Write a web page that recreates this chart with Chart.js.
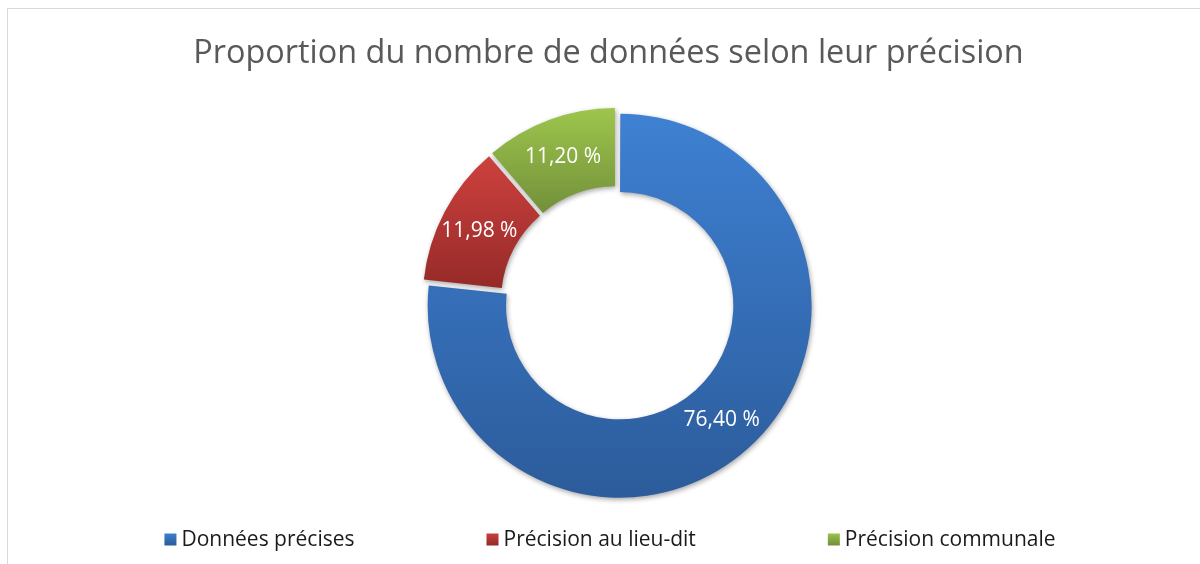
<!DOCTYPE html>
<html><head><meta charset="utf-8">
<script src="https://cdn.jsdelivr.net/npm/chart.js@4/dist/chart.umd.min.js"></script>
<style>
html,body{margin:0;padding:0;background:#fff;overflow:hidden;}
#wrap{position:relative;width:1200px;height:564px;}
#frame{position:absolute;left:7px;top:8px;width:1200px;height:600px;border-left:1px solid #d9d9d9;border-top:1px solid #d9d9d9;}
canvas{position:absolute;left:0;top:0;}
</style></head><body>
<div id="wrap"><div id="frame"></div><canvas id="c" width="1200" height="564"></canvas></div>
<script>
const chartTitle = 'Proportion du nombre de données selon leur précision';
const categories = ['Données précises', 'Précision au lieu-dit', 'Précision communale'];
const values = [76.40, 11.98, 11.20];
const valueLabels = ['76,40 %', '11,98 %', '11,20 %'];
const topColors = ['#3e80d2', '#cd413e', '#9dc54c'];
const bottomColors = ['#2c5c9b', '#952a28', '#73903a'];
const sliceOffsets = [16, 21, 21];

const OUTER = 188;
const INNER = 113;

function sliceRange(i, area) {
  const total = values.reduce((a, b) => a + b, 0);
  let start = -Math.PI / 2;
  for (let k = 0; k < i; k++) start += values[k] / total * 2 * Math.PI;
  const end = start + values[i] / total * 2 * Math.PI;
  const cy = (area.top + area.bottom) / 2;
  let minY = Infinity, maxY = -Infinity;
  for (let s = 0; s <= 80; s++) {
    const a = start + (end - start) * s / 80;
    for (const rad of [OUTER, INNER]) {
      const y = cy + Math.sin(a) * rad;
      minY = Math.min(minY, y); maxY = Math.max(maxY, y);
    }
  }
  return [minY, maxY];
}

function sliceFill(ctx) {
  const i = ctx.dataIndex;
  const chart = ctx.chart;
  const area = chart.chartArea;
  if (!area) return topColors[i];
  const [y0, y1] = sliceRange(i, area);
  const g = chart.ctx.createLinearGradient(0, y0, 0, y1);
  g.addColorStop(0, topColors[i]);
  g.addColorStop(1, bottomColors[i]);
  return g;
}

const titlePlugin = {
  id: 'topTitle',
  afterDraw(chart) {
    const c = chart.ctx;
    c.save();
    c.font = '32.4px "Open Sans"';
    c.fillStyle = '#595959';
    c.textAlign = 'center';
    c.textBaseline = 'alphabetic';
    c.fillText(chartTitle, 608.5, 63);
    c.restore();
  }
};

const shadowPlugin = {
  id: 'shadow',
  beforeDatasetsDraw(chart) {
    const c = chart.ctx;
    c.save();
    c.shadowColor = 'rgba(0,0,0,0.35)';
    c.shadowBlur = 5;
    c.shadowOffsetX = 1;
    c.shadowOffsetY = 2;
  },
  afterDatasetsDraw(chart) { chart.ctx.restore(); }
};

const labelPlugin = {
  id: 'valueLabels',
  afterDatasetsDraw(chart) {
    const c = chart.ctx;
    const meta = chart.getDatasetMeta(0);
    c.save();
    c.fillStyle = '#ffffff';
    c.font = '21px "Open Sans"';
    c.textAlign = 'center';
    c.textBaseline = 'middle';
    meta.data.forEach((arc, i) => {
      const off = (arc.options.offset || 0) / 4;
      const circ = arc.endAngle - arc.startAngle;
      const radOff = off * (1 - Math.sin(Math.min(Math.PI, circ)));
      const mid = (arc.startAngle + arc.endAngle) / 2;
      const rr = off + (arc.innerRadius + arc.outerRadius) / 2 + radOff;
      c.fillText(valueLabels[i], arc.x + Math.cos(mid) * rr, arc.y + Math.sin(mid) * rr + 1);
    });
    c.restore();
  }
};

const legendPlugin = {
  id: 'bottomLegend',
  afterDraw(chart) {
    const c = chart.ctx;
    c.save();
    c.font = '21px "Open Sans"';
    c.textBaseline = 'middle';
    const box = 12, textGap = 5, gap = 132, yMid = 539;
    const widths = categories.map(t => box + textGap + c.measureText(t).width);
    const total = widths.reduce((a, b) => a + b, 0) + gap * (categories.length - 1);
    let x = 610 - total / 2;
    categories.forEach((t, i) => {
      const g = c.createLinearGradient(0, yMid - box / 2, 0, yMid + box / 2);
      g.addColorStop(0, topColors[i]);
      g.addColorStop(1, bottomColors[i]);
      c.fillStyle = g;
      c.fillRect(x, yMid - box / 2 + 0.5, box, box);
      c.fillStyle = '#1a1a1a';
      c.fillText(t, x + box + textGap, yMid + 1);
      x += widths[i] + gap;
    });
    c.restore();
  }
};

new Chart(document.getElementById('c'), {
  type: 'doughnut',
  data: {
    labels: categories,
    datasets: [{
      data: values,
      backgroundColor: sliceFill,
      borderWidth: 0,
      offset: sliceOffsets,
      hoverOffset: 20
    }]
  },
  options: {
    responsive: false,
    devicePixelRatio: 1,
    animation: false,
    radius: OUTER,
    cutout: INNER,
    layout: { padding: { left: 40, right: 6, top: 98.4, bottom: 57 } },
    plugins: {
      legend: { display: false },
      tooltip: { enabled: false },
      title: { display: false }
    }
  },
  plugins: [shadowPlugin, labelPlugin, legendPlugin, titlePlugin]
});
</script>
</body></html>
